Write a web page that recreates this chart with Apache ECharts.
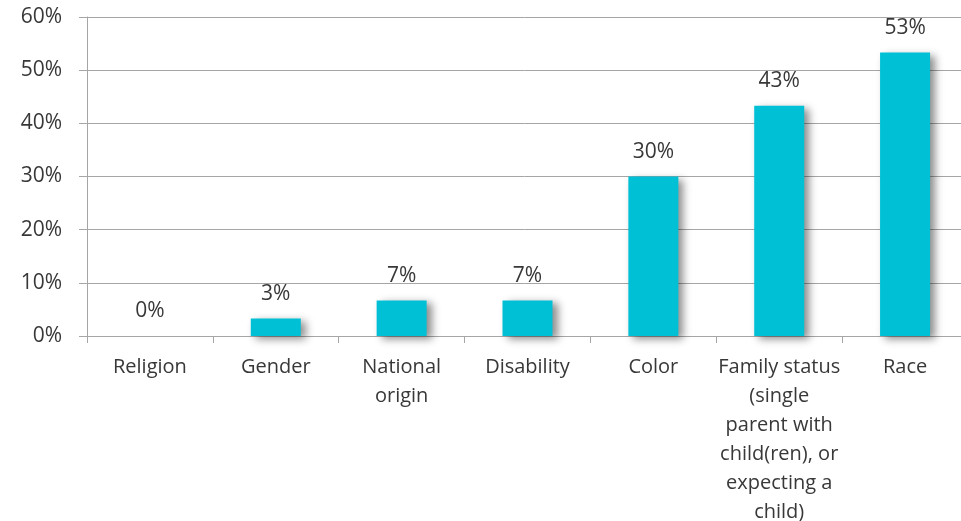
<!DOCTYPE html>
<html>
<head>
<meta charset="utf-8">
<script src="https://cdn.jsdelivr.net/npm/echarts@6/dist/echarts.min.js"></script>
<style>
  html, body { margin: 0; padding: 0; background: #fff; }
  #chart { width: 961px; height: 521px; }
</style>
</head>
<body>
<div id="chart"></div>
<script>
// Share of respondents citing each basis (percent)
const categories = [
  'Religion',
  'Gender',
  'National\norigin',
  'Disability',
  'Color',
  'Family status\n(single\nparent with\nchild(ren), or\nexpecting a\nchild)',
  'Race'
];
const shares = [0, 3.3, 6.7, 6.7, 30, 43.3, 53.3];
const yTicks = [0, 10, 20, 30, 40, 50, 60];

const fontFamily = '"Open Sans", "Noto Sans", sans-serif';
const textColor = '#383838';
const lineColor = '#a6a6a6';

const chart = echarts.init(document.getElementById('chart'));
chart.setOption({
  animation: false,
  // plot area runs past the right edge of the canvas; keep it fixed
  grid: {
    left: 87, width: 881, top: 17, bottom: 185,
    containLabel: false,
    outerBoundsMode: 'none'
  },
  xAxis: {
    type: 'category',
    data: categories,
    axisLine: { show: true, lineStyle: { color: lineColor, width: 1 } },
    axisTick: { show: true, length: 7, lineStyle: { color: lineColor } },
    axisLabel: {
      interval: 0,
      margin: 17,
      color: textColor,
      fontFamily: fontFamily,
      fontSize: 20,
      lineHeight: 29,
      align: 'center',
      verticalAlign: 'top'
    }
  },
  yAxis: {
    type: 'value',
    min: yTicks[0],
    max: yTicks[yTicks.length - 1],
    interval: 10,
    axisLine: { show: true, lineStyle: { color: lineColor, width: 1 } },
    axisTick: { show: true, length: 8, lineStyle: { color: lineColor } },
    splitLine: { show: true, lineStyle: { color: lineColor, width: 1 } },
    axisLabel: {
      margin: 25,
      color: textColor,
      fontFamily: fontFamily,
      fontSize: 21,
      formatter: v => v + '%'
    }
  },
  series: [{
    type: 'bar',
    data: shares,
    barWidth: 50,
    itemStyle: {
      color: '#00c0d5',
      shadowColor: 'rgba(0,0,0,0.45)',
      shadowBlur: 8,
      shadowOffsetX: 5,
      shadowOffsetY: 3
    },
    label: {
      show: true,
      position: 'top',
      distance: 14,
      color: textColor,
      fontFamily: fontFamily,
      fontSize: 21,
      formatter: p => Math.round(p.value) + '%'
    }
  }]
});
</script>
</body>
</html>
